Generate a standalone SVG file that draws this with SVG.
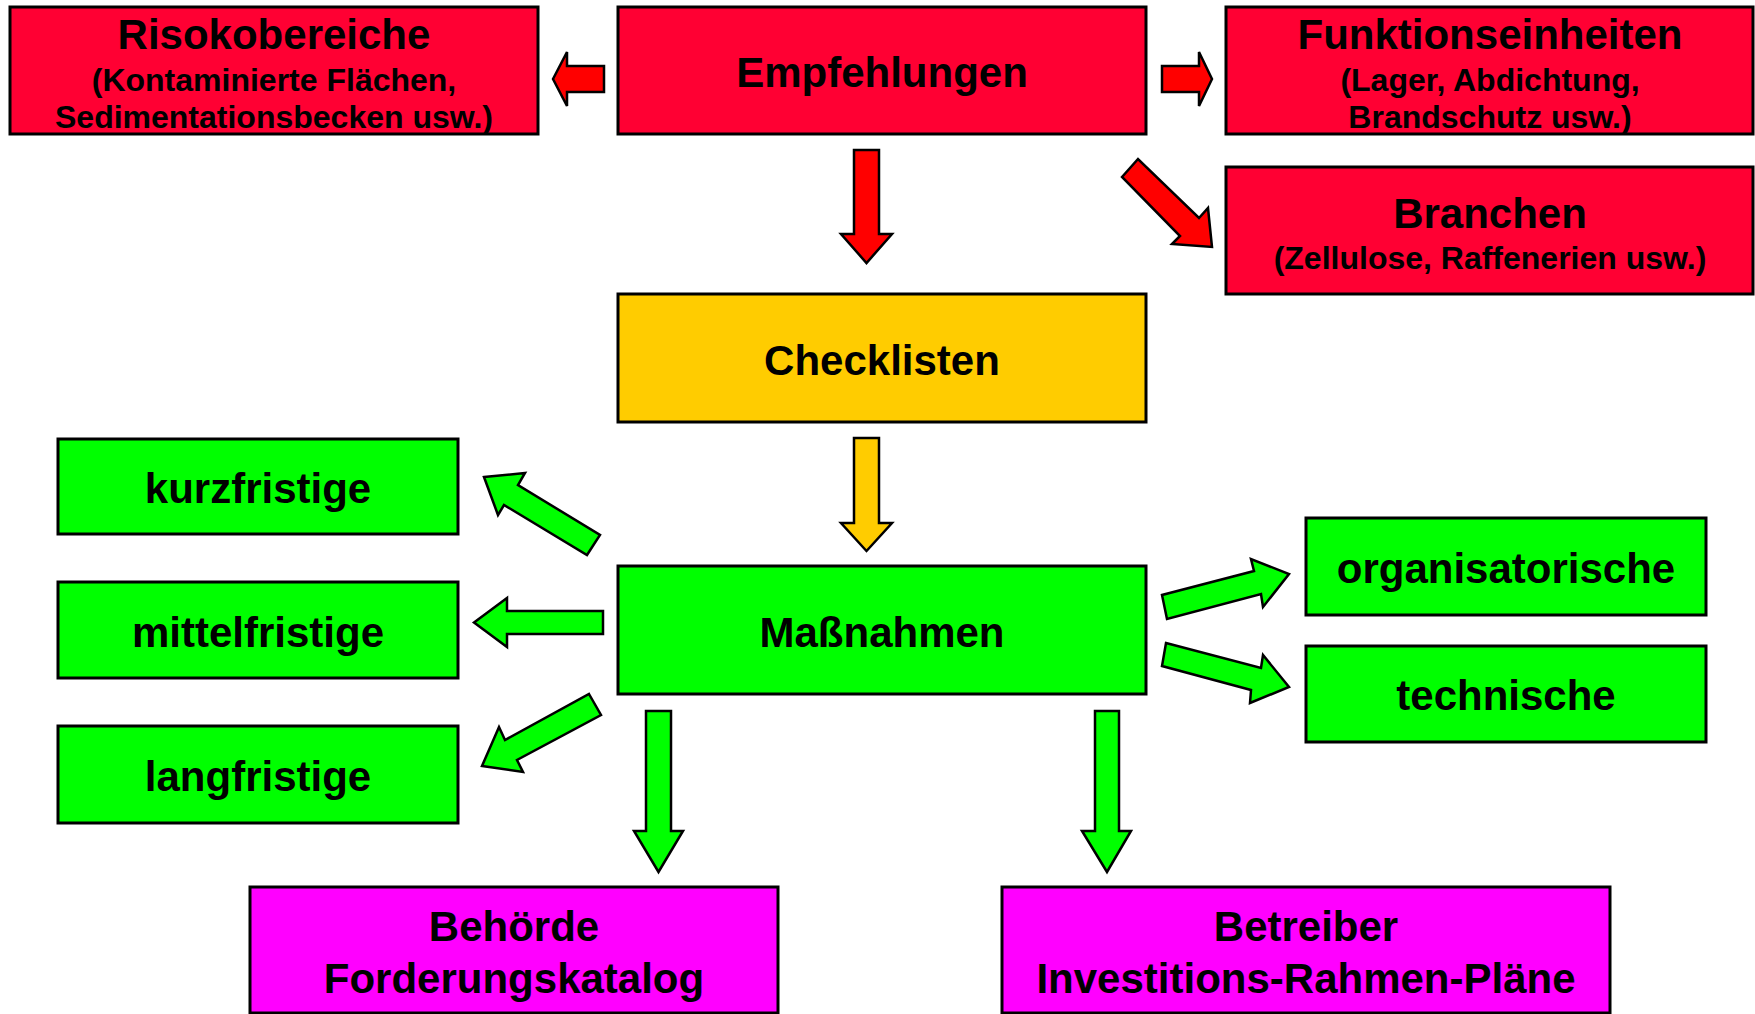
<svg xmlns="http://www.w3.org/2000/svg" width="1755" height="1014" viewBox="0 0 1755 1014">
<style>
.box{stroke:#000;stroke-width:3}
.red{fill:#FF0033}
.yel{fill:#FFCC00}
.grn{fill:#00FF00}
.mag{fill:#FF00FF}
.t{font-family:"Liberation Sans",Arial,Helvetica,sans-serif;font-weight:bold;fill:#000;text-anchor:middle}
.h{font-size:42px}
.s{font-size:32px}
.arr{stroke:#000;stroke-width:2.5;stroke-linejoin:miter}
.ar{fill:#FF0000}
.ay{fill:#FFCC00}
.ag{fill:#00FF00}
</style>
<rect width="1755" height="1014" fill="#fff"/>
<g id="connectors">
<polygon class="arr ar" points="553,79 567,52 567,66 604,66 604,92 567,92 567,106"/>
<polygon class="arr ar" points="1162,66 1199,66 1199,52 1212,79 1199,106 1199,92 1162,92"/>
<polygon class="arr ar" points="854,150 879,150 879,234 892,234 866.5,263 841,234 854,234"/>
<polygon class="arr ar" points="1122,177 1138,159 1199,218 1208,208 1212,247 1172,244 1180,236"/>
<polygon class="arr ay" points="854,438 879,438 879,523 892,523 866.5,551 841,523 854,523"/>
<polygon class="arr ag" points="484,477 525,473 518,485 600,535 587,555 504,505 498,515"/>
<polygon class="arr ag" points="474,622.5 507,598 507,611 603,611 603,634 507,634 507,647"/>
<polygon class="arr ag" points="589,694 601,715 517,760 523,772 482,766 499,727 505,740"/>
<polygon class="arr ag" points="1167,619 1162,595 1254,571 1251,559 1289,574 1263,607 1261,594"/>
<polygon class="arr ag" points="1166,643 1261,668 1263,655 1289,687 1250,703 1251,690 1162,666"/>
<polygon class="arr ag" points="646,711 671,711 671,831 683,831 658.5,872 634,831 646,831"/>
<polygon class="arr ag" points="1095,711 1119,711 1119,831 1131,831 1107,872 1082,831 1095,831"/>
</g>
<g id="risikobereiche">
<rect class="box red" x="10" y="7" width="528" height="127"/>
<text class="t h" x="274" y="49">Risokobereiche</text>
<text class="t s" x="274" y="91">(Kontaminierte Flächen,</text>
<text class="t s" x="274" y="128">Sedimentationsbecken usw.)</text>
</g>
<g id="empfehlungen">
<rect class="box red" x="618" y="7" width="528" height="127"/>
<text class="t h" x="882" y="87">Empfehlungen</text>
</g>
<g id="funktionseinheiten">
<rect class="box red" x="1226" y="7" width="527" height="127"/>
<text class="t h" x="1490" y="49">Funktionseinheiten</text>
<text class="t s" x="1490" y="91">(Lager, Abdichtung,</text>
<text class="t s" x="1490" y="128">Brandschutz usw.)</text>
</g>
<g id="branchen">
<rect class="box red" x="1226" y="167" width="527" height="127"/>
<text class="t h" x="1490" y="228">Branchen</text>
<text class="t s" x="1490" y="269">(Zellulose, Raffenerien usw.)</text>
</g>
<g id="checklisten">
<rect class="box yel" x="618" y="294" width="528" height="128"/>
<text class="t h" x="882" y="375">Checklisten</text>
</g>
<g id="kurzfristige">
<rect class="box grn" x="58" y="439" width="400" height="95"/>
<text class="t h" x="258" y="503">kurzfristige</text>
</g>
<g id="mittelfristige">
<rect class="box grn" x="58" y="582" width="400" height="96"/>
<text class="t h" x="258" y="647">mittelfristige</text>
</g>
<g id="langfristige">
<rect class="box grn" x="58" y="726" width="400" height="97"/>
<text class="t h" x="258" y="791">langfristige</text>
</g>
<g id="massnahmen">
<rect class="box grn" x="618" y="566" width="528" height="128"/>
<text class="t h" x="882" y="647">Maßnahmen</text>
</g>
<g id="organisatorische">
<rect class="box grn" x="1306" y="518" width="400" height="97"/>
<text class="t h" x="1506" y="583">organisatorische</text>
</g>
<g id="technische">
<rect class="box grn" x="1306" y="646" width="400" height="96"/>
<text class="t h" x="1506" y="710">technische</text>
</g>
<g id="behoerde">
<rect class="box mag" x="250" y="887" width="528" height="126"/>
<text class="t h" x="514" y="941">Behörde</text>
<text class="t h" x="514" y="993">Forderungskatalog</text>
</g>
<g id="betreiber">
<rect class="box mag" x="1002" y="887" width="608" height="126"/>
<text class="t h" x="1306" y="941">Betreiber</text>
<text class="t h" x="1306" y="993">Investitions-Rahmen-Pläne</text>
</g>
</svg>
